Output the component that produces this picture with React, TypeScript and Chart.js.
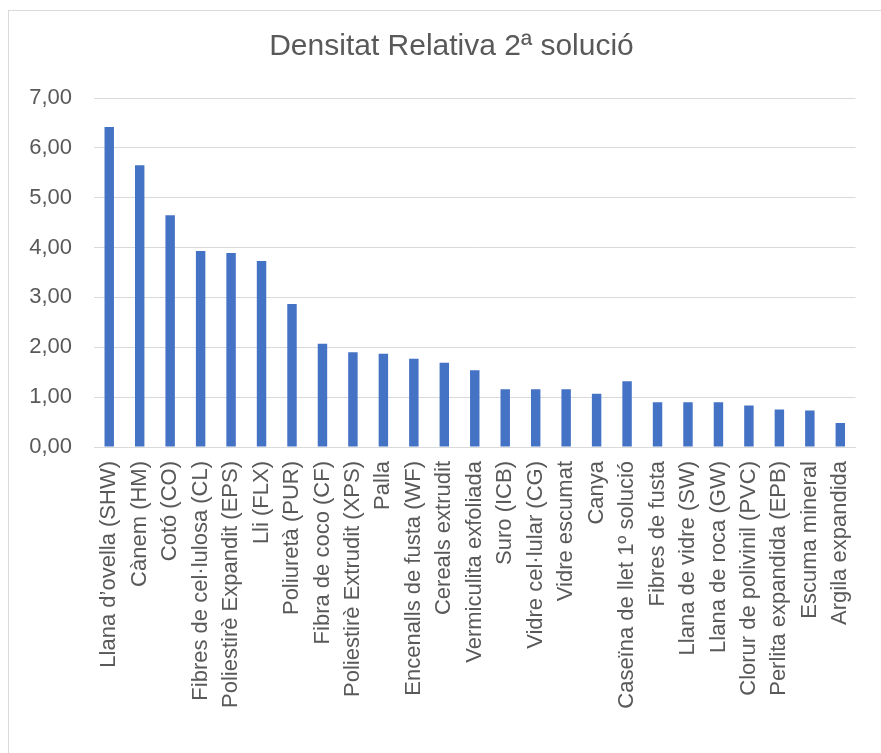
import React, { useEffect, useRef } from "react";
import { Chart, registerables } from "chart.js";

Chart.register(...registerables);

const title = "Densitat Relativa 2ª solució";

const materials = [
  "Llana d’ovella (SHW)",
  "Cànem (HM)",
  "Cotó (CO)",
  "Fibres de cel·lulosa (CL)",
  "Poliestirè Expandit (EPS)",
  "Lli (FLX)",
  "Poliuretà (PUR)",
  "Fibra de coco (CF)",
  "Poliestirè Extrudit (XPS)",
  "Palla",
  "Encenalls de fusta (WF)",
  "Cereals extrudit",
  "Vermiculita exfoliada",
  "Suro (ICB)",
  "Vidre cel·lular (CG)",
  "Vidre escumat",
  "Canya",
  "Caseïna de llet 1º solució",
  "Fibres de fusta",
  "Llana de vidre (SW)",
  "Llana de roca (GW)",
  "Clorur de polivinil (PVC)",
  "Perlita expandida (EPB)",
  "Escuma mineral",
  "Argila expandida",
];

const relativeDensity = [
  6.42, 5.65, 4.65, 3.93, 3.89, 3.73, 2.87, 2.07, 1.9, 1.87, 1.77, 1.69, 1.54,
  1.16, 1.16, 1.16, 1.07, 1.32, 0.9, 0.9, 0.9, 0.83, 0.75, 0.73, 0.48,
];

const yMin = 0;
const yMax = 7;
const yStep = 1;

const FONT = "'Liberation Sans', Arial, sans-serif";
const TEXT = "#595959";
const GRID = "#d9d9d9";
const BAR = "#4472C4";

// nudges the title block so it sits a little right of the canvas centre
const titleShift = {
  id: "titleShift",
  afterLayout(chart: any) {
    const t = chart.titleBlock;
    if (t) {
      t.left += 14;
      t.right += 14;
    }
  },
};

export default function App() {
  const canvasRef = useRef<HTMLCanvasElement | null>(null);

  useEffect(() => {
    if (!canvasRef.current) return;
    const chart = new Chart(canvasRef.current, {
      type: "bar",
      data: {
        labels: materials,
        datasets: [
          {
            data: relativeDensity,
            backgroundColor: BAR,
            borderWidth: 0,
            barPercentage: 0.31,
            categoryPercentage: 1,
          },
        ],
      },
      plugins: [titleShift],
      options: {
        animation: false,
        responsive: false,
        maintainAspectRatio: false,
        layout: { padding: { left: 0, right: 15, top: 0, bottom: 0 } },
        plugins: {
          legend: { display: false },
          tooltip: { enabled: false },
          title: {
            display: true,
            text: title,
            color: TEXT,
            font: { family: FONT, size: 30, weight: "normal" },
            padding: { top: 18, bottom: 33 },
          },
        },
        scales: {
          x: {
            grid: { display: false, drawTicks: false },
            border: { display: true, color: GRID, width: 1 },
            ticks: {
              color: TEXT,
              font: { family: FONT, size: 22 },
              minRotation: 90,
              maxRotation: 90,
              autoSkip: false,
              padding: 14,
            },
            afterFit: (scale: any) => {
              scale.height = 306;
            },
          },
          y: {
            min: yMin,
            max: yMax,
            grid: { color: GRID, lineWidth: 1, drawTicks: false },
            border: { display: false },
            ticks: {
              stepSize: yStep,
              color: TEXT,
              font: { family: FONT, size: 22 },
              padding: 22,
              callback: (v: any) => Number(v).toFixed(2).replace(".", ","),
            },
            afterFit: (scale: any) => {
              scale.width = 85;
            },
          },
        },
      },
    });
    return () => chart.destroy();
  }, []);

  return (
    <div
      style={{
        position: "fixed",
        left: 8,
        top: 10,
        width: 873,
        height: 743,
        borderTop: `1px solid ${GRID}`,
        borderLeft: `1px solid ${GRID}`,
        background: "#fff",
        overflow: "hidden",
      }}
    >
      <canvas ref={canvasRef} width={872} height={742} style={{ display: "block" }} />
    </div>
  );
}
